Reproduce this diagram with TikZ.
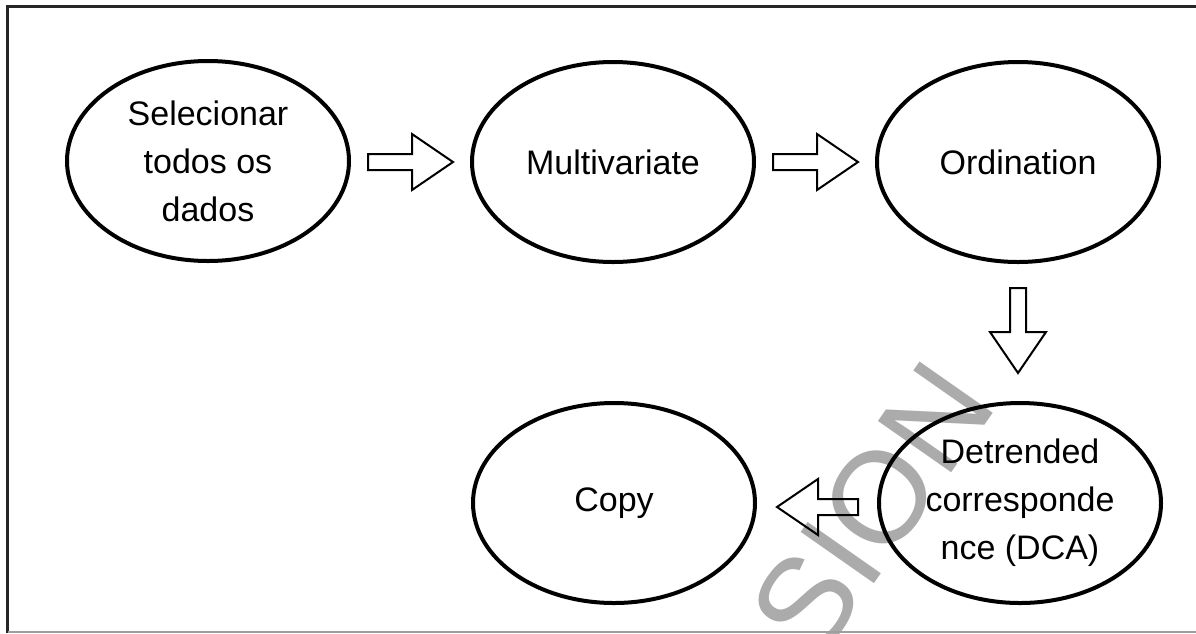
\documentclass[tikz,border=0pt]{standalone}
\usepackage{fontspec}
\setmainfont{Liberation Sans}
\usetikzlibrary{shapes.geometric,calc}
\newcommand{\blkarrow}[2]{%
  \coordinate (hd) at ($(#2)!41pt!(#1)$);
  \draw[blockarr] ($(#1)!8pt!90:(#2)$) -- ($(hd)!8pt!90:(#2)$) -- ($(hd)!28pt!90:(#2)$) -- (#2)
    -- ($(hd)!28pt!-90:(#2)$) -- ($(hd)!8pt!-90:(#2)$) -- ($(#1)!8pt!-90:(#2)$) -- cycle;}
\begin{document}
\begin{tikzpicture}[x=1pt,y=-1pt,
  stage/.style={ellipse, draw=black, line width=4pt, minimum width=282pt, minimum height=200pt,
    inner sep=0pt, align=center, font=\fontsize{34}{48}\selectfont},
  blockarr/.style={draw=black, line width=2pt, line join=miter},
  frametop/.style={line width=3pt, draw=black!85},
  framebot/.style={line width=1.5pt, draw=black!38},
  wmark/.style={text=black!33, font=\fontsize{130}{130}\selectfont, rotate=55, inner sep=0pt}
]
\useasboundingbox (0,0) rectangle (1196,633);
\fill[white] (0,0) rectangle (1196,633);
% watermark
\node[wmark] (wm) at (872,509) {SION};
% frame
\draw[frametop] (6,6.5) -- (1196,6.5);
\draw[frametop] (7.5,5) -- (7.5,633);
\draw[framebot] (7.5,632) -- (1196,632);
% stages
\node[stage] (sel)  at (208,161)  {Selecionar\\todos os\\dados};
\node[stage] (mult) at (613,162)  {Multivariate};
\node[stage] (ord)  at (1018,162) {Ordination};
\node[stage] (dca)  at (1020,503) {Detrended\\corresponde\\nce (DCA)};
\node[stage] (copy) at (614,503)  {Copy};
% arrow end points
\coordinate (a1s) at ($(sel.east)+(17,1)$);
\coordinate (a1e) at ($(mult.west)+(-17,0)$);
\coordinate (a2s) at ($(mult.east)+(17,0)$);
\coordinate (a2e) at ($(ord.west)+(-17,0)$);
\coordinate (a3s) at ($(ord.south)+(0,24)$);
\coordinate (a3e) at ($(ord.south |- dca.north)+(0,-28)$);
\coordinate (a4s) at ($(dca.west)+(-19,4)$);
\coordinate (a4e) at ($(copy.east)+(20,4)$);
\blkarrow{a1s}{a1e}
\blkarrow{a2s}{a2e}
\blkarrow{a3s}{a3e}
\blkarrow{a4s}{a4e}
\end{tikzpicture}
\end{document}
